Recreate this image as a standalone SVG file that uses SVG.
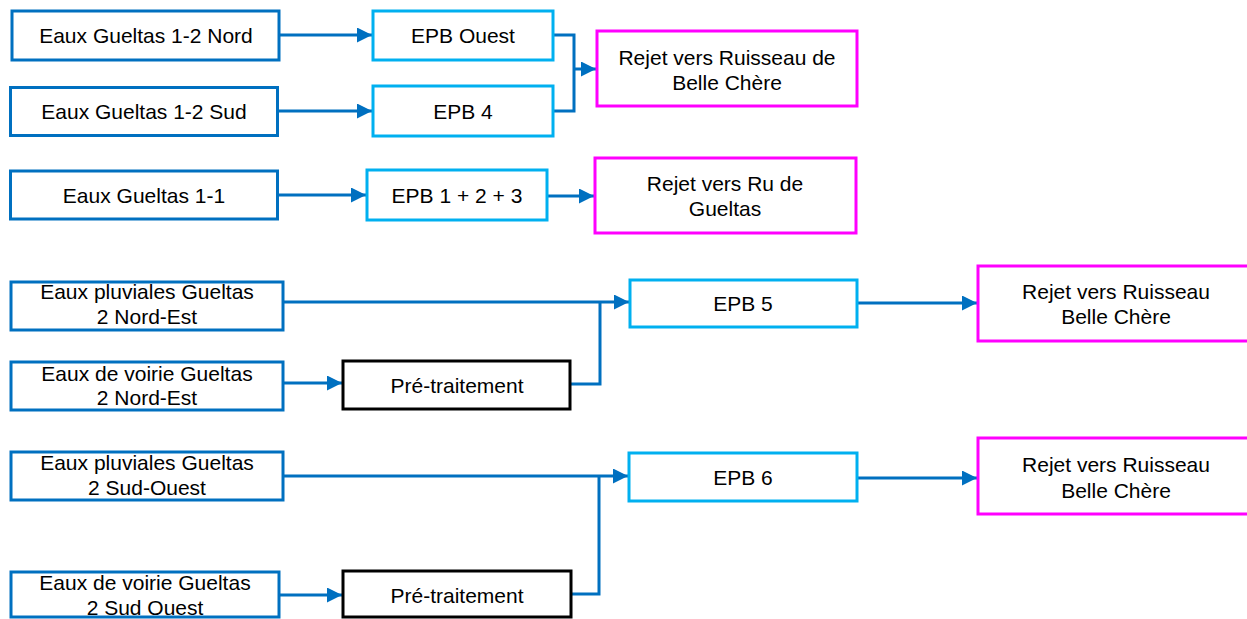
<svg xmlns="http://www.w3.org/2000/svg" width="1247" height="619" viewBox="0 0 1247 619">
<style>
text{font-family:"Liberation Sans",Arial,sans-serif;font-size:21px;fill:#000;text-anchor:middle}
.src{fill:#fff;stroke:#0070C0;stroke-width:3}
.epb{fill:#fff;stroke:#00B0F0;stroke-width:3}
.rej{fill:#fff;stroke:#FF00FF;stroke-width:3}
.pre{fill:#fff;stroke:#000;stroke-width:3}
.c{fill:none;stroke:#0070C0;stroke-width:3}
.a{marker-end:url(#ah)}
</style>
<defs>
<marker id="ah" markerUnits="userSpaceOnUse" markerWidth="15" markerHeight="15" refX="15" refY="7.5" orient="auto">
<path d="M0,0 L15,7.5 L0,15 Z" fill="#0070C0"/>
</marker>
</defs>
<rect width="1247" height="619" fill="#fff"/>
<g id="connectors">
<path class="c a" d="M280,35 H372"/>
<path class="c a" d="M277,111 H372"/>
<path class="c a" d="M277,195 H366"/>
<path class="c" d="M553,35 H574 V111 H553"/>
<path class="c a" d="M574,69 H596"/>
<path class="c a" d="M547,196 H594"/>
<path class="c a" d="M283,302 H629"/>
<path class="c a" d="M283,383 H342"/>
<path class="c" d="M570,384 H600 V302"/>
<path class="c a" d="M857,303 H977"/>
<path class="c a" d="M283,476 H628"/>
<path class="c a" d="M857,478 H977"/>
<path class="c a" d="M279,595 H342"/>
<path class="c" d="M571,594 H599 V476"/>
</g>
<g id="n-g12nord"><rect class="src" x="12" y="11" width="267" height="49"/><text x="146" y="42.5">Eaux Gueltas 1-2 Nord</text></g>
<g id="n-g12sud"><rect class="src" x="10.5" y="87.5" width="267" height="48"/><text x="144" y="118.5">Eaux Gueltas 1-2 Sud</text></g>
<g id="n-g11"><rect class="src" x="10.5" y="171" width="267" height="48"/><text x="144" y="202.5">Eaux Gueltas 1-1</text></g>
<g id="n-epbouest"><rect class="epb" x="373" y="11" width="180" height="49"/><text x="463" y="42.5">EPB Ouest</text></g>
<g id="n-epb4"><rect class="epb" x="373" y="86" width="180" height="50"/><text x="463" y="118.5">EPB 4</text></g>
<g id="n-epb123"><rect class="epb" x="367" y="170" width="180" height="50"/><text x="457" y="202.5">EPB 1 + 2 + 3</text></g>
<g id="n-rejet1"><rect class="rej" x="597" y="31" width="260" height="75"/><text x="727" y="64.5">Rejet vers Ruisseau de</text><text x="727" y="89.5">Belle Chère</text></g>
<g id="n-rejet2"><rect class="rej" x="595" y="158" width="261" height="75"/><text x="725" y="190.5">Rejet vers Ru de</text><text x="725" y="216">Gueltas</text></g>
<g id="n-pluvne"><rect class="src" x="11" y="282" width="272" height="48"/><text x="147" y="299">Eaux pluviales Gueltas</text><text x="147" y="323.5">2 Nord-Est</text></g>
<g id="n-voirne"><rect class="src" x="11" y="362" width="272" height="48"/><text x="147" y="381">Eaux de voirie Gueltas</text><text x="147" y="405">2 Nord-Est</text></g>
<g id="n-prene"><rect class="pre" x="343" y="361" width="227" height="48"/><text x="457" y="393">Pré-traitement</text></g>
<g id="n-epb5"><rect class="epb" x="630" y="280" width="227" height="47"/><text x="743" y="311">EPB 5</text></g>
<g id="n-rejet3"><rect class="rej" x="978" y="266" width="275" height="75"/><text x="1116" y="299">Rejet vers Ruisseau</text><text x="1116" y="324">Belle Chère</text></g>
<g id="n-pluvso"><rect class="src" x="11" y="452" width="272" height="48"/><text x="147" y="470">Eaux pluviales Gueltas</text><text x="147" y="495">2 Sud-Ouest</text></g>
<g id="n-voirso"><rect class="src" x="11" y="572" width="268" height="45"/><text x="145" y="590">Eaux de voirie Gueltas</text><text x="145" y="615">2 Sud Ouest</text></g>
<g id="n-preso"><rect class="pre" x="343" y="571" width="228" height="46"/><text x="457" y="603">Pré-traitement</text></g>
<g id="n-epb6"><rect class="epb" x="629" y="453" width="228" height="48"/><text x="743" y="485">EPB 6</text></g>
<g id="n-rejet4"><rect class="rej" x="978" y="438" width="275" height="76"/><text x="1116" y="472">Rejet vers Ruisseau</text><text x="1116" y="498">Belle Chère</text></g>
</svg>
